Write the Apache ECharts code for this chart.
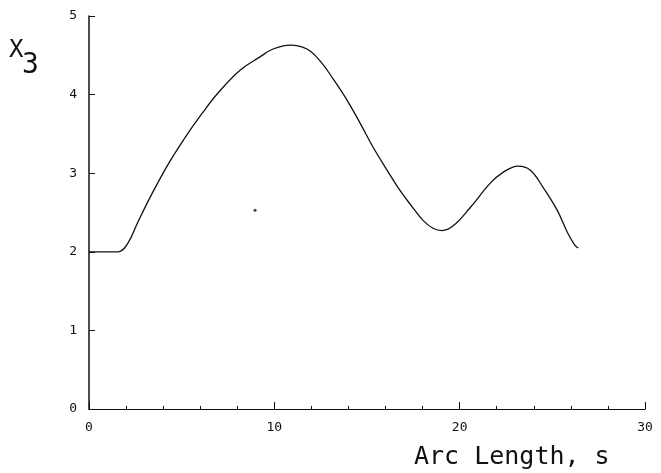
<!DOCTYPE html>
<html><head><meta charset="utf-8">
<script src="https://cdn.jsdelivr.net/npm/echarts@6/dist/echarts.min.js"></script>
<style>html,body{margin:0;padding:0;background:#fff}#c{width:661px;height:473px}</style>
</head><body><div id="c"></div>
<script>
const arcLength = [0, 0.8, 1.57, 2.1, 2.64, 3.4, 4.26, 5.2, 6.1, 6.96, 8.15, 9.23, 9.93, 10.85, 11.76, 12.5, 13.17, 13.92, 14.62, 15.33, 16.08, 16.78, 17.48, 18.02, 18.56, 19.05, 19.65, 20.56, 21.64, 22.34, 23.15, 23.8, 24.5, 25.26, 25.85, 26.23, 26.4];
const x3Values = [2.0, 2.0, 2.0, 2.11, 2.38, 2.74, 3.11, 3.46, 3.76, 4.02, 4.31, 4.48, 4.58, 4.63, 4.58, 4.42, 4.20, 3.93, 3.64, 3.33, 3.04, 2.78, 2.56, 2.40, 2.30, 2.27, 2.33, 2.56, 2.87, 3.01, 3.09, 3.04, 2.82, 2.53, 2.23, 2.08, 2.05];
const xTicks = [0, 10, 20, 30];
const yTicks = [0, 1, 2, 3, 4, 5];
const strayDot = [[8.96, 2.53]];

const chart = echarts.init(document.getElementById('c'), null, {renderer: 'canvas'});
const font = 'DejaVu Sans Mono';
chart.setOption({
  animation: false,
  backgroundColor: '#fff',
  grid: {left: 89, right: 16, top: 16, bottom: 64},
  xAxis: {
    type: 'value', min: xTicks[0], max: xTicks[xTicks.length - 1], interval: 10,
    axisLine: {lineStyle: {color: '#111', width: 1.2}},
    axisTick: {inside: true, length: 7, lineStyle: {color: '#111'}},
    minorTick: {show: true, splitNumber: 5, length: 3, lineStyle: {color: '#111'}},
    splitLine: {show: false},
    axisLabel: {fontFamily: font, fontSize: 13, color: '#111', margin: 12}
  },
  yAxis: {
    type: 'value', min: yTicks[0], max: yTicks[yTicks.length - 1], interval: 1,
    axisLine: {show: true, lineStyle: {color: '#111', width: 1.5}},
    axisTick: {show: true, inside: true, length: 6, lineStyle: {color: '#111'}},
    splitLine: {show: false},
    axisLabel: {fontFamily: font, fontSize: 13, color: '#111', margin: 12}
  },
  graphic: [
    {type: 'text', left: 9, top: 39, style: {text: 'X', font: '24px "DejaVu Sans Mono"', fill: '#111'}},
    {type: 'text', left: 22, top: 52, style: {text: '3', font: '28px "DejaVu Sans Mono"', fill: '#111'}},
    {type: 'text', left: 414, top: 445, style: {text: 'Arc Length, s', font: '25px "DejaVu Sans Mono"', fill: '#111'}}
  ],
  series: [
    {type: 'line', data: arcLength.map((s, i) => [s, x3Values[i]]), smooth: 0.4, showSymbol: false,
     lineStyle: {color: '#111', width: 1.3}},
    {type: 'scatter', data: strayDot, symbolSize: 3, itemStyle: {color: '#111'}}
  ]
});
</script></body></html>
